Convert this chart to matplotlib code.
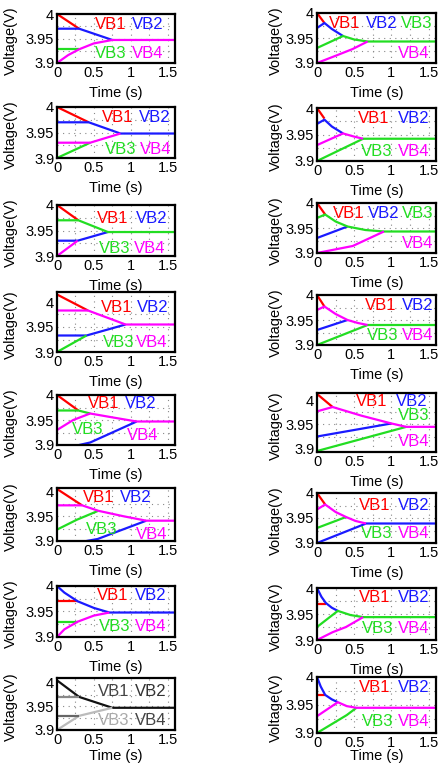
import matplotlib.pyplot as plt

plt.rcParams['font.family'] = ['Liberation Sans', 'DejaVu Sans']

# panels 0-7 = left column (top to bottom), 8-15 = right column
# each series: breakpoints (time s, voltage V)
vb1_t = [[0, 0.3], [0, 0.43], [0, 0.29], [0, 0.42], [0, 0.29], [0, 0.34], [0, 0.28],
         [0, 0.3, 0.75, 1.6],
         [0, 0.1], [0, 0.1], [0, 0.11], [0, 0.1], [0, 0.21], [0, 0.11], [0, 0.12], [0, 0.11]]
vb1_v = [[4.0, 3.970], [4.0, 3.970], [4.0, 3.970], [4.015, 3.983], [4.0, 3.969], [4.005, 3.972],
         [3.970, 3.970], [4.005, 3.970, 3.947, 3.947],
         [4.0, 3.980], [4.0, 3.980], [4.0, 3.977], [4.0, 3.977], [4.013, 3.986], [4.0, 3.977],
         [3.970, 3.970], [3.968, 3.968]]

vb2_t = [[0, 0.3, 0.75], [0, 0.43, 0.86, 1.6], [0, 0.28, 0.69], [0, 0.4, 0.93],
         [0.3, 0.45, 1.08], [0.4, 0.55, 1.21], [0, 0.1, 0.28, 0.5, 0.71, 1.6], [0, 0.3],
         [0, 0.1, 0.2, 0.35], [0, 0.1, 0.2, 0.35], [0, 0.41], [0, 0.41], [0, 1.0],
         [0, 0.66, 1.6], [0, 0.06, 0.12, 0.2, 0.28], [0, 0.05, 0.11, 0.2, 0.28]]
vb2_v = [[3.970, 3.970, 3.947], [3.970, 3.970, 3.948, 3.948], [3.930, 3.930, 3.947],
         [3.933, 3.933, 3.955], [3.9, 3.905, 3.947], [3.9, 3.904, 3.941],
         [4.0, 3.987, 3.970, 3.957, 3.948, 3.948], [3.970, 3.970],
         [3.970, 3.980, 3.968, 3.954], [3.970, 3.978, 3.965, 3.952], [3.930, 3.953],
         [3.930, 3.950], [3.925, 3.952], [3.9, 3.939, 3.939],
         [4.0, 3.983, 3.971, 3.962, 3.956], [4.0, 3.983, 3.968, 3.960, 3.955]]

vb3_t = [[0, 0.3], [0, 0.45], [0, 0.29, 0.69, 1.6], [0, 0.4], [0, 0.29, 0.45],
         [0, 0.27, 0.56], [0, 0.28], [0, 0.3, 0.75],
         [0, 0.35, 0.5, 0.68, 1.6], [0, 0.62, 1.6], [0, 0.11, 0.25, 0.41, 0.65, 0.9, 1.6],
         [0, 0.68, 1.6], [0, 1.2], [0, 0.39], [0, 0.28, 0.45, 0.62, 1.6], [0, 0.2, 0.4, 0.53]]
vb3_v = [[3.928, 3.928], [3.9, 3.930], [3.970, 3.970, 3.947, 3.947], [3.9, 3.933],
         [3.969, 3.969, 3.963], [3.923, 3.943, 3.961], [3.930, 3.930], [3.9, 3.930, 3.947],
         [3.930, 3.954, 3.947, 3.943, 3.943], [3.9, 3.942, 3.942],
         [3.970, 3.977, 3.963, 3.953, 3.946, 3.943, 3.943], [3.9, 3.940, 3.940],
         [3.895, 3.945], [3.930, 3.952], [3.925, 3.956, 3.948, 3.944, 3.944],
         [3.9, 3.916, 3.932, 3.945]]

vb4_t = [[0, 0.15, 0.3, 0.5, 0.75, 1.6], [0, 0.45, 0.86], [0, 0.28],
         [0, 0.42, 0.93, 1.6], [0, 0.22, 0.45, 0.76, 1.08, 1.6],
         [0, 0.34, 0.56, 0.9, 1.21, 1.6], [0, 0.1, 0.28, 0.5, 0.71], [0, 0.3],
         [0, 0.26, 0.48, 0.68], [0, 0.35, 0.5, 0.62], [0, 0.48, 0.9],
         [0, 0.1, 0.25, 0.41, 0.55, 0.68], [0, 0.21, 0.6, 1.0, 1.2, 1.6],
         [0, 0.11, 0.25, 0.39, 0.52, 0.66], [0, 0.21, 0.39, 0.62], [0, 0.28, 0.4, 0.53, 1.6]]
vb4_v = [[3.9, 3.916, 3.928, 3.940, 3.947, 3.947], [3.930, 3.930, 3.948], [3.9, 3.930],
         [3.983, 3.983, 3.955, 3.955], [3.930, 3.950, 3.963, 3.955, 3.947, 3.947],
         [3.972, 3.972, 3.961, 3.950, 3.941, 3.941], [3.9, 3.915, 3.930, 3.942, 3.948],
         [3.930, 3.930],
         [3.9, 3.915, 3.928, 3.943], [3.930, 3.952, 3.946, 3.942], [3.9, 3.914, 3.943],
         [3.970, 3.977, 3.962, 3.950, 3.944, 3.940],
         [3.977, 3.986, 3.968, 3.952, 3.945, 3.945],
         [3.967, 3.977, 3.962, 3.952, 3.944, 3.939], [3.9, 3.915, 3.925, 3.944],
         [3.930, 3.955, 3.948, 3.945, 3.945]]

names = ['VB1', 'VB2', 'VB3', 'VB4']
x_ticks = [0, 0.5, 1, 1.5]
x_ticklabels = ['0', '0.5', '1', '1.5']
y_ticks = [3.9, 3.95, 4.0]
y_ticklabels = ['3.9', '3.95', '4']
y_lims = [(3.9, 4.0), (3.9, 4.0), (3.9, 4.0), (3.9, 4.02), (3.9, 4.0), (3.9, 4.007),
          (3.9, 4.0), (3.9, 4.01),
          (3.9, 4.0), (3.9, 4.0), (3.9, 4.0), (3.9, 4.0), (3.893, 4.015), (3.9, 4.0),
          (3.9, 4.0), (3.9, 4.0)]

# where the VB labels sit inside each panel (data coords)
label_pos = [
    [(0.73, 3.978), (1.23, 3.978), (0.73, 3.92), (1.23, 3.92)],
    [(0.82, 3.979), (1.32, 3.979), (0.86, 3.917), (1.34, 3.917)],
    [(0.76, 3.973), (1.28, 3.973), (0.78, 3.915), (1.25, 3.915)],
    [(0.81, 3.99), (1.3, 3.99), (0.83, 3.92), (1.28, 3.92)],
    [(0.63, 3.982), (1.14, 3.982), (0.42, 3.93), (1.16, 3.918)],
    [(0.56, 3.987), (1.07, 3.987), (0.6, 3.923), (1.28, 3.913)],
    [(0.75, 3.981), (1.27, 3.981), (0.78, 3.92), (1.27, 3.92)],
    [(0.77, 3.982), (1.27, 3.982), (0.77, 3.92), (1.27, 3.92)],
    [(0.37, 3.98), (0.87, 3.98), (1.34, 3.98), (1.3, 3.92)],
    [(0.76, 3.98), (1.3, 3.98), (0.8, 3.917), (1.3, 3.917)],
    [(0.43, 3.98), (0.9, 3.98), (1.36, 3.98), (1.35, 3.918)],
    [(0.85, 3.98), (1.35, 3.98), (0.88, 3.92), (1.35, 3.92)],
    [(0.73, 3.997), (1.27, 3.997), (1.3, 3.969), (1.3, 3.914)],
    [(0.78, 3.975), (1.3, 3.975), (0.8, 3.919), (1.3, 3.919)],
    [(0.78, 3.981), (1.3, 3.981), (0.82, 3.922), (1.3, 3.922)],
    [(0.78, 3.981), (1.3, 3.981), (0.82, 3.921), (1.3, 3.921)],
]

colors = ['#ff0000', '#1a1aff', '#22dd22', '#ff00ff']
gray_lines = ['#111111', '#888888', '#bbbbbb', '#666666']
gray_text = ['#444444', '#333333', '#aaaaaa', '#444444']

# axes boxes in pixels: (left, right) per column, (top, bottom) per row
W, H = 438, 764
cols = [(57, 175), (317, 436)]
rows = [[(14, 63), (107, 158), (205, 256), (292, 352), (395, 445), (488, 541), (586, 637), (678, 730)],
        [(13, 63), (108, 161), (203, 253), (295, 345), (393, 452), (493, 543), (588, 640), (677, 733)]]
ylabel_off = [-39, -34]

fig = plt.figure(figsize=(W / 100, H / 100), dpi=100)

series_t = [vb1_t, vb2_t, vb3_t, vb4_t]
series_v = [vb1_v, vb2_v, vb3_v, vb4_v]

for i in range(16):
    c = i // 8
    r = i % 8
    x0, x1 = cols[c]
    top, bot = rows[c][r]
    ax = fig.add_axes([x0 / W, 1 - bot / H, (x1 - x0) / W, (bot - top) / H])

    lc = gray_lines if i == 7 else colors
    tc = gray_text if i == 7 else colors
    for k in range(4):
        ax.plot(series_t[k][i], series_v[k][i], color=lc[k], lw=1.6, solid_capstyle='butt')
        lx, ly = label_pos[i][k]
        ax.text(lx, ly, names[k], color=tc[k], fontsize=12, ha='center', va='center')

    ax.set_xlim(0, 1.6)
    ax.set_ylim(*y_lims[i])
    ax.set_xticks(x_ticks)
    ax.set_xticklabels(x_ticklabels)
    ax.set_yticks(y_ticks)
    ax.set_yticklabels(y_ticklabels)
    ax.tick_params(labelsize=10.5, length=0, pad=2)
    for g in [0.25, 0.5, 0.75, 1.0, 1.25, 1.5]:
        ax.axvline(g, color='#888888', lw=0.8, ls=(0, (1, 4)), zorder=0)
    for g in [3.925, 3.95, 3.975]:
        ax.axhline(g, color='#888888', lw=0.8, ls=(0, (1, 4)), zorder=0)
    for s in ax.spines.values():
        s.set_linewidth(1.6)
    ax.set_xlabel('Time (s)', fontsize=10.5)
    ax.set_ylabel('Voltage(V)', fontsize=10.5)
    # bottom row is squeezed against the figure edge
    xl_off = min(23, H - 15 - bot)
    ax.xaxis.set_label_coords(0.5, -xl_off / (bot - top))
    ax.yaxis.set_label_coords(ylabel_off[c] / (x1 - x0), 0.45)

fig.savefig('out.png', dpi=100)
